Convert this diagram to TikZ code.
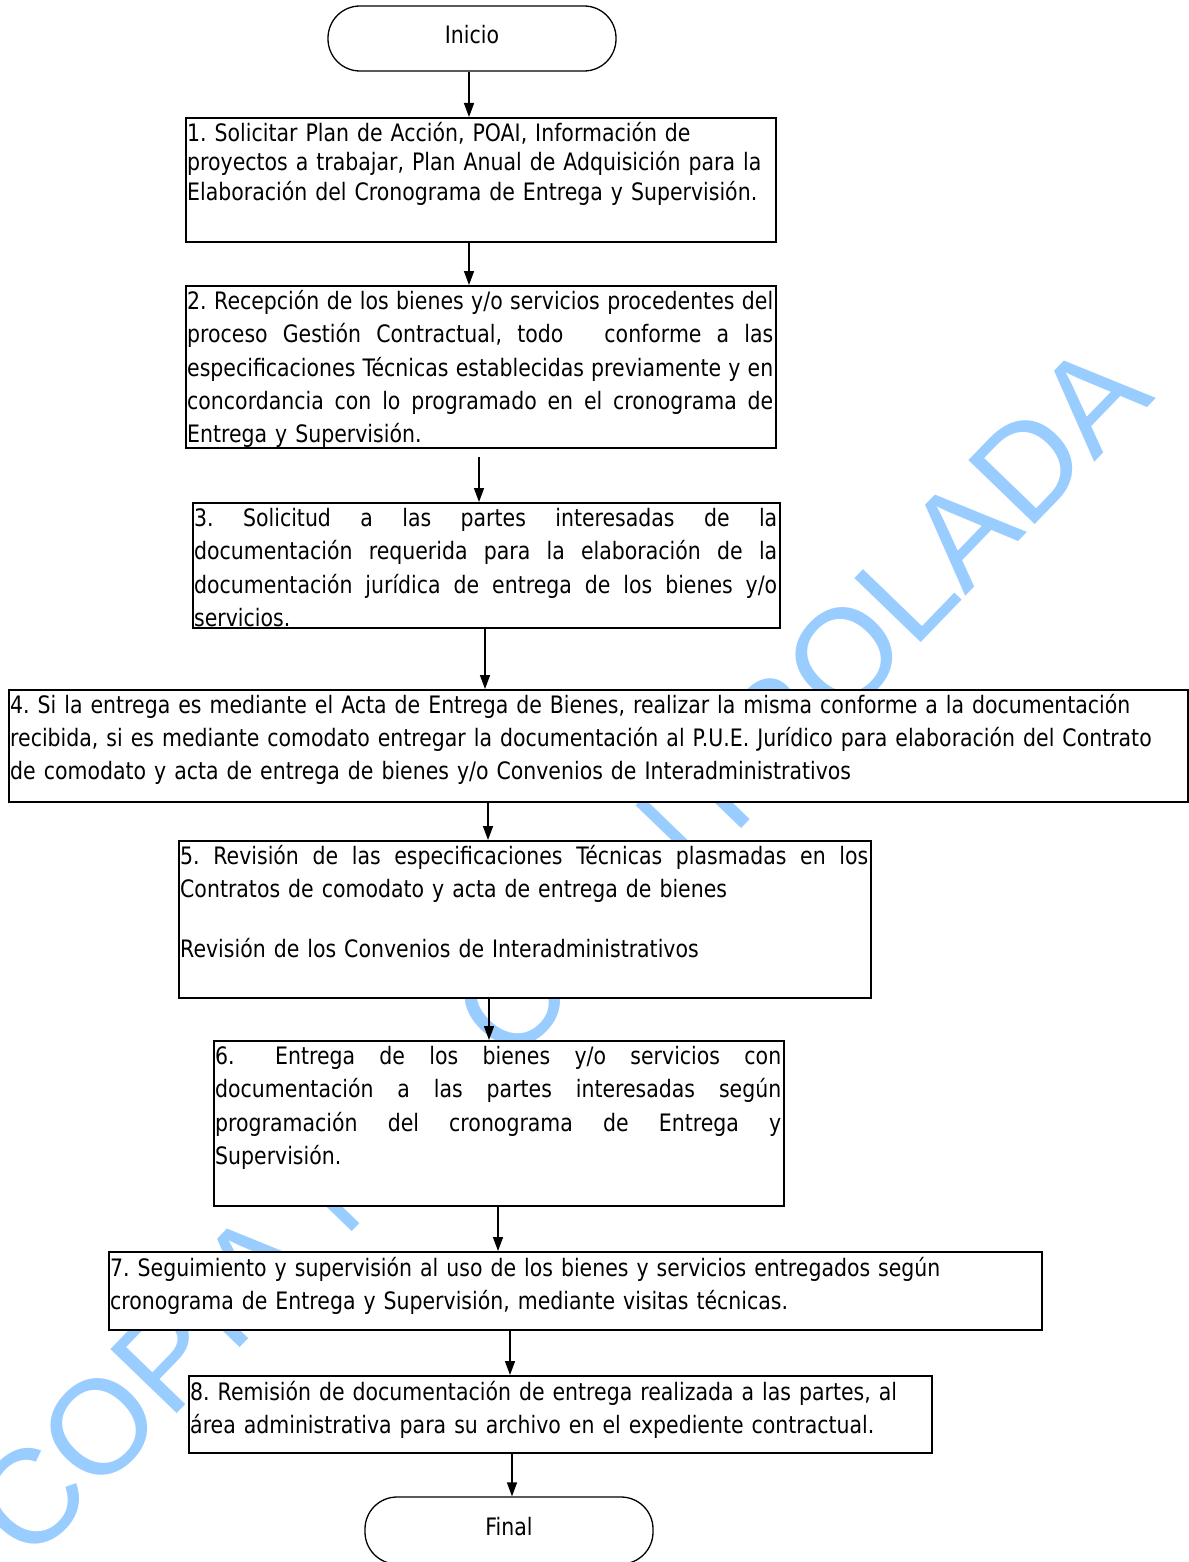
\documentclass[tikz,border=0pt]{standalone}
\usepackage{fontspec}
\setmainfont{DejaVu Sans}[FakeStretch=0.853]
\newfontfamily\wmfont{Liberation Sans}
\usetikzlibrary{arrows.meta}
\definecolor{wmblue}{RGB}{153,204,255}
\frenchspacing
% a line spread to a given width (interword spaces stretch)
\newcommand\jl[2][586pt]{\leavevmode\hbox to #1{\spaceskip=0pt\xspaceskip=0pt #2}}
% fixes the height of a first line
\newcommand\ls{\rule{0pt}{20pt}}
\tikzset{
  box/.style={draw, line width=1.8pt, fill=white, inner sep=0pt, anchor=north west},
  term/.style={draw, line width=1.3pt, fill=white, rounded corners=32pt,
    minimum width=288pt, inner sep=0pt, font=\fontsize{24}{28}\selectfont},
  txt/.style={anchor=north west, inner sep=0pt, align=left, text width=#1,
    font=\fontsize{24}{33.4}\selectfont},
  arr/.style={line width=1.5pt, -{Triangle[length=14pt,width=10pt]}},
}
\begin{document}
\begin{tikzpicture}[x=1pt,y=-1pt]
\useasboundingbox (0,0) rectangle (1188,1562);
\fill[white] (0,0) rectangle (1188,1562);

% watermark
\node[rotate=46, text=wmblue, inner sep=0pt,
  font=\wmfont\fontsize{134}{134}\selectfont] (wm) at (560,950) {COPIA NO CONTROLADA};

% terminals
\node[term, minimum height=65pt] (inicio) at (472,38.5) {\raisebox{8pt}{Inicio}};
\node[term, minimum height=67pt] (final) at (509,1530.5) {\raisebox{8pt}{Final}};

% process boxes
\node[box, minimum width=590pt, minimum height=124pt] (b1) at (185,117) {};
\node[box, minimum width=590pt, minimum height=162pt] (b2) at (185,285) {};
\node[box, minimum width=587pt, minimum height=125pt] (b3) at (192,502) {};
\node[box, minimum width=1179pt, minimum height=112pt] (b4) at (8,689) {};
\node[box, minimum width=692pt, minimum height=157pt] (b5) at (178,840) {};
\node[box, minimum width=570pt, minimum height=165pt] (b6) at (213,1040) {};
\node[box, minimum width=933pt, minimum height=78pt] (b7) at (108,1251) {};
\node[box, minimum width=743pt, minimum height=77pt] (b8) at (188,1375) {};

% box texts
\node[txt=586pt, font=\fontsize{24}{29.5}\selectfont] (t1) at ([shift={(2,4)}]b1.north west)
 {\ls 1. Solicitar Plan de Acción, POAI, Información de\\
  proyectos a trabajar, Plan Anual de Adquisición para la\\
  Elaboración del Cronograma de Entrega y Supervisión.};
\node[txt=586pt] (t2) at ([shift={(2,4)}]b2.north west)
 {\ls\jl{2. Recepción de los bienes y/o servicios procedentes del}\\
  \jl{proceso Gestión Contractual, todo\hspace{26pt} conforme a las}\\
  \jl{especificaciones Técnicas establecidas previamente y en}\\
  \jl{concordancia con lo programado en el cronograma de}\\
  Entrega y Supervisión.};
\node[txt=583pt] (t3) at ([shift={(2,4)}]b3.north west)
 {\ls\jl[583pt]{3. Solicitud a las partes interesadas de la}\\
  \jl[583pt]{documentación requerida para la elaboración de la}\\
  \jl[583pt]{documentación jurídica de entrega de los bienes y/o}\\
  servicios.};
\node[txt=1175pt, font=\fontsize{24}{33}\selectfont] (t4) at ([shift={(2,4)}]b4.north west)
 {\ls 4. Si la entrega es mediante el Acta de Entrega de Bienes, realizar la misma conforme a la documentación\\
  recibida, si es mediante comodato entregar la documentación al P.U.E. Jurídico para elaboración del Contrato\\
  de comodato y acta de entrega de bienes y/o Convenios de Interadministrativos};
\node[txt=688pt, font=\fontsize{24}{33}\selectfont] (t5) at ([shift={(2,4)}]b5.north west)
 {\ls\jl[688pt]{5. Revisión de las especificaciones Técnicas plasmadas en los}\\
  Contratos de comodato y acta de entrega de bienes\\[27pt]
  Revisión de los Convenios de Interadministrativos};
\node[txt=566pt] (t6) at ([shift={(2,4)}]b6.north west)
 {\ls\jl[566pt]{6.\hspace{16pt} Entrega de los bienes y/o servicios con}\\
  \jl[566pt]{documentación a las partes interesadas según}\\
  \jl[566pt]{programación del cronograma de Entrega y}\\
  Supervisión.};
\node[txt=929pt, font=\fontsize{24}{33}\selectfont] (t7) at ([shift={(2,5)}]b7.north west)
 {\ls 7. Seguimiento y supervisión al uso de los bienes y servicios entregados según\\
  cronograma de Entrega y Supervisión, mediante visitas técnicas.};
\node[txt=739pt, font=\fontsize{24}{33}\selectfont] (t8) at ([shift={(2,5)}]b8.north west)
 {\ls 8. Remisión de documentación de entrega realizada a las partes, al\\
  área administrativa para su archivo en el expediente contractual.};

% connector columns
\coordinate (c1) at (469,0);
\coordinate (c2) at (469,0);
\coordinate (c3) at (479,0);
\coordinate (c4) at (485,0);
\coordinate (c5) at (488,0);
\coordinate (c6) at (489,0);
\coordinate (c7) at (498,0);
\coordinate (c8) at (510,0);
\coordinate (c9) at (512,0);

% connectors
\draw[arr] (inicio.south -| c1) -- (b1.north -| c1);
\draw[arr] (b1.south -| c2) -- (b2.north -| c2);
\draw[arr, shorten <=8pt] (b2.south -| c3) -- (b3.north -| c3);
\draw[arr] (b3.south -| c4) -- (b4.north -| c4);
\draw[arr] (b4.south -| c5) -- (b5.north -| c5);
\draw[arr] (b5.south -| c6) -- (b6.north -| c6);
\draw[arr] (b6.south -| c7) -- (b7.north -| c7);
\draw[arr] (b7.south -| c8) -- (b8.north -| c8);
\draw[arr] (b8.south -| c9) -- (final.north -| c9);
\end{tikzpicture}
\end{document}
